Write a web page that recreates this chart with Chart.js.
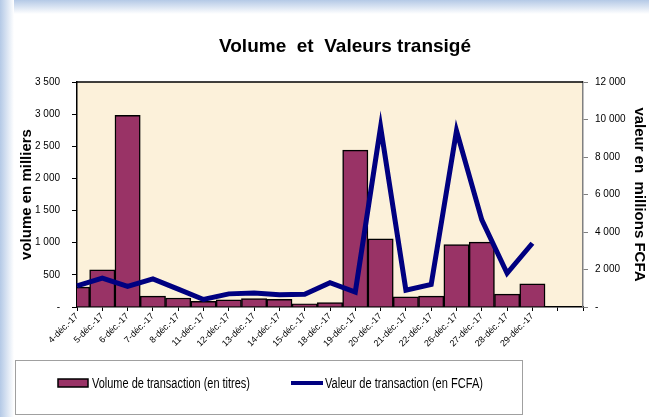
<!DOCTYPE html>
<html>
<head>
<meta charset="utf-8">
<script src="https://cdn.jsdelivr.net/npm/chart.js@4/dist/chart.umd.min.js"></script>
<style>
  html, body { margin: 0; padding: 0; background: #fff; }
</style>
</head>
<body>
<canvas id="myCanvas" width="649" height="417"></canvas>
<script>
const dates = ['4-déc.-17', '5-déc.-17', '6-déc.-17', '7-déc.-17', '8-déc.-17', '11-déc.-17', '12-déc.-17',
  '13-déc.-17', '14-déc.-17', '15-déc.-17', '18-déc.-17', '19-déc.-17', '20-déc.-17', '21-déc.-17',
  '22-déc.-17', '26-déc.-17', '27-déc.-17', '28-déc.-17', '29-déc.-17', '', '']
const volume = [310, 580, 2980, 170, 140, 90, 110, 130, 120, 50, 70, 2440, 1060, 160, 170, 970, 1010, 200, 360, null, null]
const valeur = [1130, 1540, 1100, 1500, 950, 400, 700, 750, 650, 680, 1300, 800, 9600, 900, 1200, 9400, 4650, 1800, 3400, null, null]

const chartTitle = 'Volume  et  Valeurs transigé'
const volumeLabel = 'Volume de transaction (en titres)'
const valeurLabel = 'Valeur de transaction (en FCFA)'
const volumeAxisTitle = 'volume en milliers'
const valeurAxisTitle = 'valeur en  millions FCFA'

const FONT = "Arial, 'Liberation Sans', sans-serif"

function fmt(v) {
  if (v === 0) return '-'
  return String(v).replace(/\B(?=(\d{3})+(?!\d))/g, ' ')
}

// narrow legend text (the original uses a condensed face)
function narrowText(ctx, text, x, y, w) {
  const m = ctx.measureText(text).width
  ctx.save()
  ctx.translate(x, y)
  ctx.scale(w / m, 1)
  ctx.fillText(text, 0, 0)
  ctx.restore()
}

const decor = {
  id: 'decor',
  beforeDraw(chart) {
    const { ctx, chartArea: a, width, height } = chart
    ctx.save()
    ctx.fillStyle = '#fff'
    ctx.fillRect(0, 0, width, height)
    let g = ctx.createLinearGradient(0, 0, 14, 0)
    g.addColorStop(0, '#b4c9e6')
    g.addColorStop(1, '#ffffff')
    ctx.fillStyle = g
    ctx.fillRect(0, 0, 14, height)
    g = ctx.createLinearGradient(0, 0, 0, 14)
    g.addColorStop(0, '#b4c9e6')
    g.addColorStop(1, '#ffffff')
    ctx.fillStyle = g
    ctx.fillRect(14, 0, width - 14, 14)
    ctx.fillStyle = '#fcf1da'
    ctx.fillRect(a.left, a.top, a.right - a.left, a.bottom - a.top)
    ctx.restore()
  },
  beforeDatasetsDraw(chart) {
    const { ctx, chartArea: a } = chart
    ctx.save()
    ctx.strokeStyle = '#000'
    ctx.lineWidth = 1.5
    ctx.beginPath()
    ctx.moveTo(a.left, a.top)
    ctx.lineTo(a.right, a.top)
    ctx.stroke()
    ctx.restore()
  },
  afterDraw(chart) {
    const { ctx } = chart
    ctx.save()
    // title
    ctx.fillStyle = '#000'
    ctx.font = 'bold 19px ' + FONT
    ctx.textAlign = 'center'
    ctx.textBaseline = 'middle'
    ctx.fillText(chartTitle, 345, 47)

    // legend
    ctx.strokeStyle = '#a0a0a0'
    ctx.lineWidth = 1
    ctx.strokeRect(15.5, 360.5, 507, 54)
    ctx.fillStyle = '#993366'
    ctx.fillRect(58, 379, 30, 8)
    ctx.strokeStyle = '#000'
    ctx.lineWidth = 1.5
    ctx.strokeRect(58, 379, 30, 8)
    ctx.strokeStyle = '#000080'
    ctx.lineWidth = 4
    ctx.beginPath()
    ctx.moveTo(291, 383)
    ctx.lineTo(323, 383)
    ctx.stroke()
    ctx.fillStyle = '#000'
    ctx.font = '14px ' + FONT
    ctx.textAlign = 'left'
    narrowText(ctx, volumeLabel, 92, 384, 158)
    narrowText(ctx, valeurLabel, 325, 384, 158)
    ctx.restore()
  }
}

const context = document.getElementById('myCanvas').getContext('2d')

new Chart(context, {
  type: 'bar',
  data: {
    labels: dates,
    datasets: [
      {
        type: 'line',
        label: valeurLabel,
        data: valeur,
        yAxisID: 'y1',
        borderColor: '#000080',
        borderWidth: 5,
        pointRadius: 0,
        tension: 0,
        fill: false,
        order: 0
      },
      {
        type: 'bar',
        label: volumeLabel,
        data: volume,
        yAxisID: 'y',
        backgroundColor: '#993366',
        borderColor: '#000',
        borderWidth: 1.5,
        barPercentage: 1,
        categoryPercentage: 1,
        clip: 0,
        order: 1
      }
    ]
  },
  options: {
    responsive: false,
    animation: false,
    devicePixelRatio: 1,
    layout: { padding: { left: 13, right: 0, top: 82, bottom: 60 } },
    plugins: {
      legend: { display: false },
      title: { display: false },
      tooltip: { enabled: false }
    },
    scales: {
      x: {
        offset: false,
        grid: { offset: false, drawOnChartArea: false, tickLength: 4, color: '#000' },
        border: { color: '#000', width: 1.5 },
        ticks: {
          autoSkip: false,
          maxRotation: 45,
          minRotation: 45,
          padding: 0,
          color: '#000',
          font: { family: FONT, size: 9 }
        },
        afterFit: (s) => { s.height = 50 }
      },
      y: {
        position: 'left',
        min: 0,
        max: 3500,
        grid: { drawOnChartArea: false, tickLength: 5, color: '#000' },
        border: { color: '#000', width: 1.5 },
        ticks: {
          stepSize: 500,
          padding: 12,
          color: '#000',
          font: { family: FONT, size: 10 },
          callback: (v) => fmt(v)
        },
        title: {
          display: true,
          text: volumeAxisTitle,
          color: '#000',
          font: { family: FONT, size: 15, weight: 'bold' },
          padding: { top: 5, bottom: 0 }
        },
        afterFit: (s) => { s.width = 64 }
      },
      y1: {
        position: 'right',
        min: 0,
        max: 12000,
        grid: { drawOnChartArea: false, tickLength: 5, color: '#808080' },
        border: { color: '#808080', width: 1.5 },
        ticks: {
          stepSize: 2000,
          padding: 7,
          color: '#000',
          font: { family: FONT, size: 10 },
          callback: (v) => fmt(v)
        },
        title: {
          display: true,
          text: valeurAxisTitle,
          color: '#000',
          font: { family: FONT, size: 15, weight: 'bold' },
          padding: { top: 1, bottom: 0 }
        },
        afterFit: (s) => { s.width = 66 }
      }
    }
  },
  plugins: [decor]
})
</script>
</body>
</html>
